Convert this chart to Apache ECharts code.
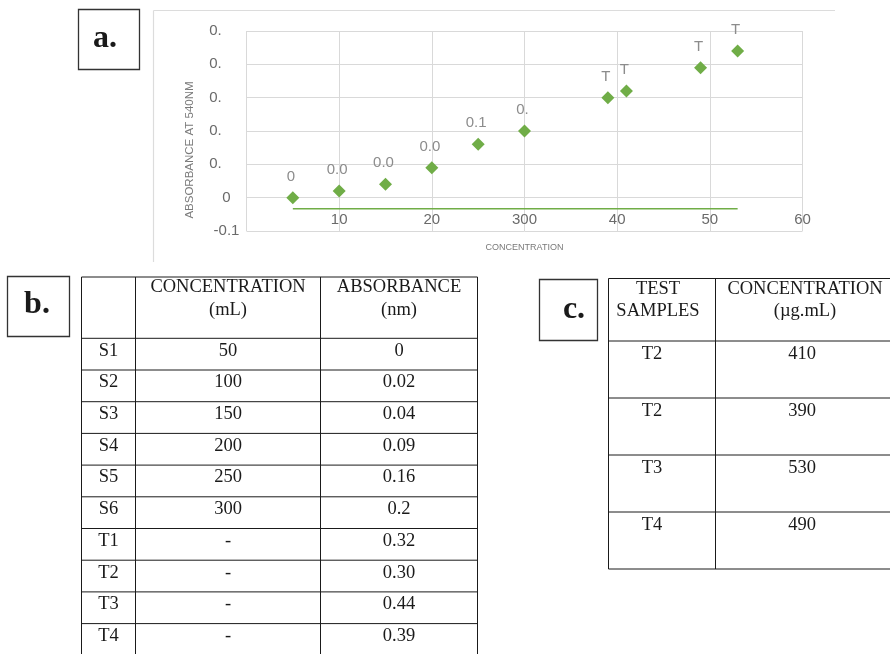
<!DOCTYPE html>
<html><head><meta charset="utf-8">
<script src="https://cdn.jsdelivr.net/npm/echarts@6/dist/echarts.min.js"></script>
<style>html,body{margin:0;padding:0;background:#fff}#c{width:890px;height:654px}</style>
</head><body><div id="c"></div>
<script>
// ---- chart data ----
const concentration = [5, 10, 15, 20, 25, 30, 39, 41, 49, 53];
const absorbance = [0, 0.02, 0.04, 0.09, 0.16, 0.2, 0.30, 0.32, 0.39, 0.44];
const pointLabels = ["0", "0.0", "0.0", "0.0", "0.1", "0.", "T", "T", "T", "T"];
const xTickLabels = ["", "10", "20", "300", "40", "50", "60"];
const yTickLabels = ["-0.1", "0", "0.", "0.", "0.", "0.", "0."];
const baselineValue = -0.033;
const baselineRange = [5, 53];

// ---- table b data ----
const tableBHeaders = [["", ""], ["CONCENTRATION", "(mL)"], ["ABSORBANCE", "(nm)"]];
const tableBSamples = ["S1", "S2", "S3", "S4", "S5", "S6", "T1", "T2", "T3", "T4"];
const tableBConc = ["50", "100", "150", "200", "250", "300", "-", "-", "-", "-"];
const tableBAbs = ["0", "0.02", "0.04", "0.09", "0.16", "0.2", "0.32", "0.30", "0.44", "0.39"];

// ---- table c data ----
const tableCHeaders = [["TEST", "SAMPLES"], ["CONCENTRATION", "(\u00b5g.mL)"]];
const tableCSamples = ["T2", "T2", "T3", "T4"];
const tableCConc = ["410", "390", "530", "490"];

// ---- layout helpers ----
const SERIF = "'Liberation Serif', 'Times New Roman', serif";
const SANS = "'Liberation Sans', Arial, sans-serif";
const AXIS_COL = '#6a6a6a', DLABEL_COL = '#8c8c8c';
const g = [];
function line(x1, y1, x2, y2, color, w) {
  g.push({type: 'line', silent: true, shape: {x1, y1, x2, y2}, style: {stroke: color, lineWidth: w}});
}
function text(t, x, y, font, color, align, extra) {
  g.push(Object.assign({type: 'text', silent: true, x, y,
    style: {text: t, x: 0, y: 0, font, fill: color, align: align || 'center', textAlign: align || 'center',
      verticalAlign: 'middle', textVerticalAlign: 'middle'}}, extra || {}));
}
function box(x, y, w, h, label, tx, ty) {
  g.push({type: 'rect', silent: true, shape: {x, y, width: w, height: h},
    style: {fill: 'none', stroke: '#333', lineWidth: 1.3}});
  text(label, tx, ty, "bold 32px " + SERIF, '#1a1a1a');
}

// chart outer frame (top + left)
line(153.5, 10.5, 835, 10.5, '#dcdcdc', 1.2);
line(153.5, 10.5, 153.5, 262, '#dcdcdc', 1.2);
// y axis title
text('ABSORBANCE AT 540NM', 190, 150, "11.5px " + SANS, '#7a7a7a', 'center', {rotation: Math.PI / 2});

// label boxes
box(78.5, 9.5, 61, 60, 'a.', 105, 39);
box(7.5, 276.5, 62, 60, 'b.', 37, 305);
box(539.5, 279.5, 58, 61, 'c.', 574, 310);

// table b
const bCols = [81.5, 135.5, 320.5, 477.5];
const bTop = 277, bHead = 338.3, bRowH = 31.7, bBottom = 660;
const TFONT = "18.5px " + SERIF, TCOL = '#1a1a1a';
line(bCols[0], bTop, bCols[3], bTop, TCOL, 1);
line(bCols[0], bHead, bCols[3], bHead, TCOL, 1);
for (let i = 1; i <= tableBSamples.length; i++) {
  const y = bHead + i * bRowH;
  line(bCols[0], y, bCols[3], y, TCOL, 1);
}
bCols.forEach(x => line(x, bTop, x, bBottom, TCOL, 1));
tableBHeaders.forEach((h, c) => {
  const cx = (bCols[c] + bCols[c + 1]) / 2;
  text(h[0], cx, 287, TFONT, TCOL);
  text(h[1], cx, 310, TFONT, TCOL);
});
tableBSamples.forEach((s, i) => {
  const y = bHead + i * bRowH + 12.5;
  text(s, (bCols[0] + bCols[1]) / 2, y, TFONT, TCOL);
  text(tableBConc[i], (bCols[1] + bCols[2]) / 2, y, TFONT, TCOL);
  text(tableBAbs[i], (bCols[2] + bCols[3]) / 2, y, TFONT, TCOL);
});

// table c
const cCols = [608.5, 715.5, 896];
const cTop = 278.5, cHead = 341, cRowH = 57;
const cBottom = cHead + tableCSamples.length * cRowH;
line(cCols[0], cTop, cCols[2], cTop, TCOL, 1);
line(cCols[0], cHead, cCols[2], cHead, TCOL, 1);
for (let i = 1; i <= tableCSamples.length; i++) {
  const y = cHead + i * cRowH;
  line(cCols[0], y, cCols[2], y, TCOL, 1);
}
cCols.forEach(x => line(x, cTop, x, cBottom, TCOL, 1));
const cCenters = [658, 805];
tableCHeaders.forEach((h, c) => {
  text(h[0], cCenters[c], 289.5, TFONT, TCOL);
  text(h[1], cCenters[c], 311, TFONT, TCOL);
});
tableCSamples.forEach((s, i) => {
  const y = cHead + i * cRowH + 13;
  text(s, cCenters[0] - 6, y, TFONT, TCOL);
  text(tableCConc[i], cCenters[1] - 3, y, TFONT, TCOL);
});

const GRID_H = 200, Y_MIN = -0.1, Y_MAX = 0.5;
const chart = echarts.init(document.getElementById('c'), null, {renderer: 'canvas'});
const option = {
  animation: false,
  backgroundColor: '#ffffff',
  grid: {left: 246.5, top: 31, width: 556, height: GRID_H, containLabel: false, outerBoundsMode: 'none'},
  xAxis: {
    type: 'value', min: 0, max: 60, interval: 10, position: 'bottom',
    // the horizontal axis crosses the vertical one at 0, as in the source chart
    offset: -GRID_H * (0 - Y_MIN) / (Y_MAX - Y_MIN),
    axisLine: {show: false, onZero: false},
    axisTick: {show: false},
    splitLine: {show: true, lineStyle: {color: '#d9d9d9', width: 1}},
    axisLabel: {margin: 15, color: AXIS_COL, fontSize: 15, fontFamily: SANS,
      formatter: v => xTickLabels[Math.round(v / 10)] || ''},
    name: 'CONCENTRATION', nameLocation: 'middle', nameGap: 45,
    nameTextStyle: {fontSize: 9, color: '#7a7a7a', fontFamily: SANS}
  },
  yAxis: {
    type: 'value', min: Y_MIN, max: Y_MAX, interval: 0.1,
    axisLine: {show: false},
    axisTick: {show: false},
    splitLine: {show: true, lineStyle: {color: '#d9d9d9', width: 1}},
    axisLabel: {margin: 20, align: 'center', color: AXIS_COL, fontSize: 15, fontFamily: SANS,
      formatter: v => {
        const s = yTickLabels[Math.round((v + 0.1) / 0.1)] || '';
        return s === '0.' ? '{p|0.}' : s;
      },
      rich: {p: {padding: [0, 22, 0, 0], fontSize: 15, color: AXIS_COL, fontFamily: SANS}}}
  },
  series: [
    {
      type: 'line', symbol: 'none', silent: true, z: 1,
      lineStyle: {color: '#70AD47', width: 1.5},
      data: baselineRange.map(x => [x, baselineValue])
    },
    {
      type: 'scatter', symbol: 'diamond', symbolSize: 13, z: 3,
      itemStyle: {color: '#70AD47', opacity: 1},
      data: concentration.map((x, i) => [x, absorbance[i]]),
      label: {show: true, position: 'top', distance: 7, offset: [-2, 0],
        color: DLABEL_COL, fontSize: 15, fontFamily: SANS,
        formatter: p => pointLabels[p.dataIndex]}
    }
  ],
  graphic: g
};
chart.setOption(option);
</script>
</body></html>
